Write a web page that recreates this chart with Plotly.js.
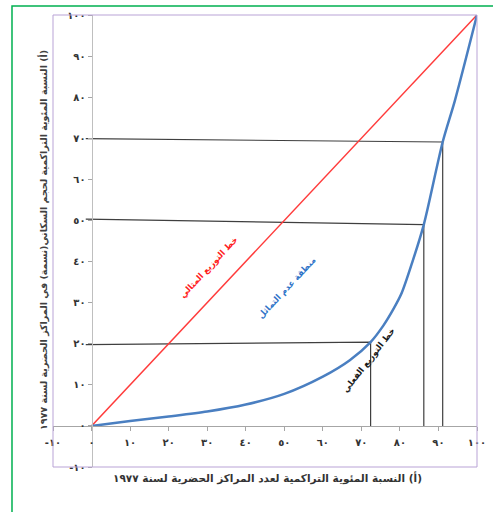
<!DOCTYPE html>
<html>
<head>
<meta charset="utf-8">
<script src="https://cdn.plot.ly/plotly-3.0.1.min.js"></script>
<style>
html,body{margin:0;padding:0;background:#fff;}
#chart{width:493px;height:512px;}
</style>
</head>
<body>
<div id="chart"></div>
<script>
// Lorenz curve (actual distribution)
var curveX = [0, 10, 20, 30, 40, 50, 60, 67, 72.4, 75.7, 78.3, 80.4, 83.2, 86.2, 91.1, 94.3, 100];
var curveY = [0, 1.2, 2.3, 3.5, 5.2, 7.8, 12, 16, 20.4, 24.4, 28.4, 32.2, 39.8, 49, 69.1, 79.3, 100];
// Ideal distribution line
var idealX = [0, 100];
var idealY = [0, 100];
// Reference points on curve (guide lines)
var refX = [72.4, 86.2, 91.1];
var refY = [20.4, 49, 69.1];
var refYLeft = [19.8, 50.3, 69.9];
var guideStartX = -1.5;
// Ticks
var tickVals = [-10, 0, 10, 20, 30, 40, 50, 60, 70, 80, 90, 100];
var tickText = ["-١٠", "٠", "١٠", "٢٠", "٣٠", "٤٠", "٥٠", "٦٠", "٧٠", "٨٠", "٩٠", "١٠٠"];
var RLM = "\u200F";
var xTitle = "(أ) النسبة المئوية التراكمية لعدد المراكز الحضرية لسنة ١٩٧٧";
var yTitle = "(أ) النسبة المئوية التراكمية لحجم السكاني(نسمة) في المراكز الحضرية لسنة ١٩٧٧";
var labelIdeal = "خط التوزيع المثالي";
var labelZone = "منطقة عدم التماثل";
var labelActual = "خط التوزيع الفعلي";

var traces = [];
for (var i = 0; i < refX.length; i++) {
  traces.push({
    x: [guideStartX, refX[i], refX[i]],
    y: [refYLeft[i], refY[i], 0],
    mode: 'lines', type: 'scatter', hoverinfo: 'skip',
    line: {color: '#3f3f3f', width: 1.2}, showlegend: false
  });
}
traces.push({
  x: idealX, y: idealY, mode: 'lines', type: 'scatter',
  line: {color: '#ff3b3b', width: 1.5}, showlegend: false
});
traces.push({
  x: curveX, y: curveY, mode: 'lines', type: 'scatter',
  line: {color: '#4a7fc1', width: 2.5, shape: 'spline', smoothing: 0.8}, showlegend: false
});

var tickFont = {family: 'DejaVu Sans', size: 10, color: '#333333', weight: 'bold'};
var layout = {
  width: 493, height: 512,
  margin: {l: 53, r: 16, t: 15, b: 45},
  paper_bgcolor: '#ffffff', plot_bgcolor: '#ffffff',
  font: {family: 'DejaVu Sans'},
  xaxis: {
    range: [-10, 100], tickvals: tickVals, ticktext: tickText,
    showgrid: false, zeroline: false, showline: true, linecolor: '#a6a6a6', linewidth: 1,
    anchor: 'free', position: 10 / 110,
    ticks: 'outside', ticklen: 4, tickcolor: '#a6a6a6', tickfont: tickFont,
    ticklabelstandoff: 3
  },
  yaxis: {
    range: [-10, 100], tickvals: tickVals, ticktext: tickText,
    showgrid: false, zeroline: false, showline: true, linecolor: '#bfbfbf', linewidth: 1,
    anchor: 'free', position: 10 / 110,
    ticks: 'outside', ticklen: 4, tickcolor: '#a6a6a6', tickfont: tickFont
  },
  shapes: [
    {type: 'rect', xref: 'paper', yref: 'paper', x0: 0, x1: 1, y0: 0, y1: 1,
     line: {color: '#b9a3d6', width: 1}},
    {type: 'rect', xref: 'paper', yref: 'paper', x0: -0.0967, x1: 1.2, y0: -0.2, y1: 1.0199,
     line: {color: '#00b050', width: 1.5}}
  ],
  annotations: [
    {xref: 'paper', yref: 'paper', x: 0.507, y: -0.024, text: '<b>' + RLM + xTitle + RLM + '</b>',
     showarrow: false, xanchor: 'center', yanchor: 'middle',
     font: {family: 'DejaVu Sans', size: 10.5, color: '#333333'}},
    {xref: 'paper', yref: 'paper', x: -0.0236, y: 0.502, text: '<b>' + RLM + yTitle + RLM + '</b>',
     showarrow: false, xanchor: 'center', yanchor: 'middle', textangle: -90,
     font: {family: 'DejaVu Sans', size: 9.5, color: '#404040'}},
    {xref: 'x', yref: 'y', x: 30.5, y: 38.5, text: '<b>' + labelIdeal + '</b>',
     showarrow: false, textangle: -47,
     font: {family: 'DejaVu Sans', size: 8.5, color: '#ff2020'}},
    {xref: 'x', yref: 'y', x: 50.6, y: 33.5, text: '<b>' + labelZone + '</b>',
     showarrow: false, textangle: -47,
     font: {family: 'DejaVu Sans', size: 8.5, color: '#2f74c8'}},
    {xref: 'x', yref: 'y', x: 72, y: 15.8, text: '<b>' + labelActual + '</b>',
     showarrow: false, textangle: -52,
     font: {family: 'DejaVu Sans', size: 8.5, color: '#1a1a1a'}}
  ]
};
Plotly.newPlot('chart', traces, layout, {displayModeBar: false, staticPlot: true});
</script>
</body>
</html>
